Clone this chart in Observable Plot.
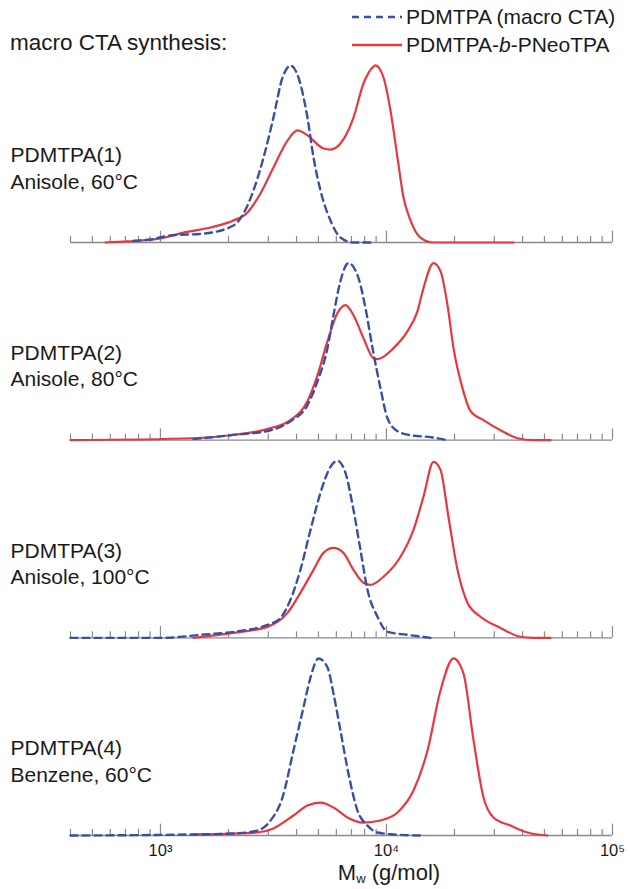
<!DOCTYPE html>
<html>
<head>
<meta charset="utf-8">
<script src="https://cdn.jsdelivr.net/npm/d3@7"></script>
<script src="https://cdn.jsdelivr.net/npm/@observablehq/plot@0.6"></script>
<style>
  body { margin: 0; background: #fff; }
  #wrap { position: relative; width: 630px; height: 889px; font-family: "Liberation Sans", Arial, sans-serif; color: #1a1a1a; }
  #wrap svg.plot { position: absolute; left: 0; top: 0; }
  .lbl { position: absolute; white-space: nowrap; line-height: 1; }
</style>
</head>
<body>
<div id="wrap">
  <div class="lbl" style="left:10px; top:32px; font-size:22.5px;">macro CTA synthesis:</div>
  <svg style="position:absolute; left:0; top:0;" width="630" height="60">
    <line x1="352" x2="402" y1="17" y2="17" stroke="#3b4ea6" stroke-width="2.4" stroke-dasharray="7,5"></line>
    <line x1="352" x2="402" y1="45" y2="45" stroke="#e8373e" stroke-width="2.4"></line>
  </svg>
  <div class="lbl" style="left:406px; top:6px; font-size:21px;">PDMTPA (macro CTA)</div>
  <div class="lbl" style="left:406px; top:34px; font-size:21px;">PDMTPA-<i>b</i>-PNeoTPA</div>
  <div class="lbl" style="left:289px; width:200px; text-align:center; top:862px; font-size:22px;">M<span style="font-size:13px; vertical-align:-3px;">w</span> (g/mol)</div>
</div>
<script>
// ---- data: [molar mass (g/mol), normalized RI signal] ----
const panel1Macro = [[760,0.01],[903,0.017],[1107,0.04],[1549,0.05],[2104,0.096],[2330,0.164],[2579,0.294],[2859,0.48],[3162,0.706],[3468,0.932],[3684,0.994],[3760,1.0],[4080,0.932],[4470,0.706],[4757,0.48],[5105,0.294],[5653,0.124],[6256,0.028],[7145,0.0],[8675,0.0]];
const panel1Block = [[571,0],[714,0.006],[1000,0.023],[1264,0.056],[1664,0.085],[2104,0.124],[2427,0.17],[2770,0.277],[3162,0.424],[3648,0.576],[4036,0.633],[4470,0.605],[5263,0.531],[5653,0.525],[6256,0.559],[7145,0.706],[7913,0.898],[8760,0.994],[8940,1.0],[9700,0.932],[10418,0.746],[11186,0.48],[11896,0.254],[12780,0.124],[14130,0.028],[16143,0],[20620,0],[36490,0]];

const panel2Macro = [[1400,0.006],[2041,0.028],[3070,0.056],[3760,0.107],[4470,0.198],[4955,0.333],[5483,0.52],[5829,0.706],[6256,0.898],[6788,1.0],[7521,0.915],[8076,0.746],[8675,0.52],[9405,0.294],[10103,0.124],[11186,0.051],[12780,0.028],[15655,0.017],[18620,0]];
const panel2Block = [[400,0],[1400,0.011],[2041,0.028],[3070,0.068],[3760,0.113],[4470,0.22],[4955,0.367],[5483,0.559],[6072,0.718],[6584,0.763],[7145,0.706],[7913,0.576],[8760,0.463],[9126,0.458],[10745,0.52],[12393,0.616],[13718,0.729],[14580,0.859],[16143,1.0],[17338,0.955],[18620,0.763],[19800,0.52],[21690,0.294],[23550,0.164],[26870,0.113],[31930,0.056],[38010,0.011],[44700,0],[53160,0]];

const panel3Macro = [[400,0],[1031,0],[1503,0.017],[2104,0.034],[2976,0.073],[3398,0.113],[3760,0.215],[4160,0.384],[4613,0.61],[5105,0.819],[5653,0.966],[6072,1.0],[6584,0.932],[7145,0.723],[7673,0.497],[8242,0.271],[9126,0.119],[10103,0.034],[12393,0.017],[15655,0]];
const panel3Block = [[1400,0],[2104,0.028],[2976,0.062],[3648,0.141],[4160,0.254],[4757,0.384],[5263,0.48],[5829,0.508],[6450,0.48],[7145,0.384],[7913,0.311],[8500,0.299],[9700,0.345],[11536,0.458],[13170,0.61],[14580,0.797],[16143,0.994],[17338,0.949],[18800,0.684],[20620,0.384],[22820,0.198],[26070,0.119],[31930,0.056],[39200,0.006],[44700,0],[53160,0]];

const panel4Macro = [[400,0],[1400,0.006],[2104,0.011],[2687,0.028],[3070,0.085],[3468,0.215],[3877,0.48],[4293,0.723],[4613,0.893],[5004,1.0],[5483,0.949],[5829,0.802],[6256,0.593],[6788,0.35],[7443,0.141],[8242,0.056],[9126,0.017],[10745,0.006],[14130,0]];
const panel4Block = [[1400,0.006],[2104,0.011],[2687,0.017],[3162,0.04],[3877,0.113],[4470,0.169],[5105,0.186],[5829,0.158],[6718,0.102],[7913,0.073],[9405,0.085],[11186,0.13],[13170,0.254],[15190,0.48],[17338,0.819],[19800,1.0],[21910,0.915],[24280,0.537],[26870,0.215],[29750,0.102],[35370,0.056],[42090,0.017],[51560,0]];

const panelNames = ["PDMTPA(1)", "PDMTPA(2)", "PDMTPA(3)", "PDMTPA(4)"];
const panelConditions = ["Anisole, 60°C", "Anisole, 80°C", "Anisole, 100°C", "Benzene, 60°C"];
const minorTicks = [400,500,600,700,800,900,2000,3000,4000,5000,6000,7000,8000,9000,20000,30000,40000,50000,60000,70000,80000,90000];
const majorTicks = [1000,10000,100000];
const majorTickLabels = ["10³", "10⁴", "10⁵"];

// ---- build tables ----
const macroSets = [panel1Macro, panel2Macro, panel3Macro, panel4Macro];
const blockSets = [panel1Block, panel2Block, panel3Block, panel4Block];
const toRows = (sets) => sets.flatMap((s, i) => s.map(([M, w]) => ({panel: i + 1, M, w})));
const macroRows = toRows(macroSets);
const blockRows = toRows(blockSets);
const labelRows = panelNames.map((n, i) => ({panel: i + 1, text: n + "\n" + panelConditions[i]}));
const tickRows = [...minorTicks.map(v => ({v, len: 0.034})), ...majorTicks.map(v => ({v, len: 0.064}))];
const decadeRows = majorTicks.map((v, i) => ({v, text: majorTickLabels[i], panel: 4}));

const BLUE = "#3b4ea6", RED = "#e8373e", GRAY = "#8a8a8a";

const chart = Plot.plot({
  width: 630,
  height: 889,
  marginLeft: 70,
  marginRight: 18,
  marginTop: 57,
  marginBottom: 54,
  style: {fontFamily: "'Liberation Sans', Arial, sans-serif", background: "transparent", overflow: "visible"},
  x: {type: "log", domain: [400, 100000], axis: null},
  y: {domain: [0, 1.045], axis: null},
  fy: {domain: [1, 2, 3, 4], axis: null, paddingInner: 0.064, paddingOuter: 0, round: false},
  marks: [
    Plot.ruleY([0], {stroke: GRAY, strokeWidth: 1.4}),
    Plot.ruleX(tickRows, {x: "v", y1: 0, y2: "len", stroke: GRAY, strokeWidth: 1.2}),
    Plot.line(blockRows, {x: "M", y: "w", fy: "panel", stroke: RED, strokeWidth: 2.2, curve: "monotone-x"}),
    Plot.line(macroRows, {x: "M", y: "w", fy: "panel", stroke: BLUE, strokeWidth: 2.4, strokeDasharray: "7,5", curve: "monotone-x"}),
    Plot.text(labelRows, {fy: "panel", text: "text", frameAnchor: "left", textAnchor: "start", dx: -60, dy: 17, fontSize: 21, lineHeight: 1.25, fill: "#1a1a1a"}),
    Plot.text(decadeRows, {x: "v", y: 0, fy: "panel", text: "text", dy: 15, fontSize: 16.5, fill: "#1a1a1a"})
  ]
});
chart.classList.add("plot");
document.getElementById("wrap").prepend(chart);
</script>
</body>
</html>
